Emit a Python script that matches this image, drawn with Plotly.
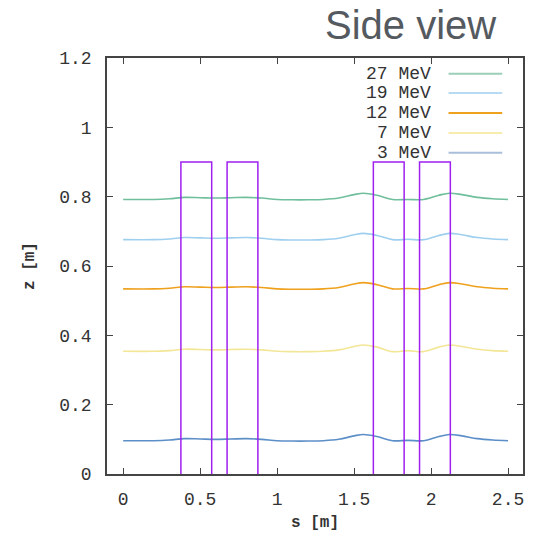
import plotly.graph_objects as go

# Beam path positions along the line [m]
s_pos = [0.0, 0.2, 0.3, 0.4, 0.5, 0.6, 0.7, 0.8, 0.9, 1.0, 1.1, 1.2, 1.3,
         1.4, 1.5, 1.56, 1.65, 1.75, 1.85, 1.95, 2.05, 2.12, 2.2, 2.3, 2.4, 2.5]

# Vertical trajectory height z [m] per beam energy
energies = ["27 MeV", "19 MeV", "12 MeV", "7 MeV", "3 MeV"]
z_27 = [0.792, 0.792, 0.794, 0.798, 0.797, 0.796, 0.797, 0.798, 0.796, 0.792, 0.791, 0.791, 0.792,
        0.796, 0.806, 0.810, 0.804, 0.792, 0.792, 0.792, 0.804, 0.810, 0.806, 0.798, 0.794, 0.792]
z_19 = [0.676, 0.676, 0.678, 0.682, 0.681, 0.680, 0.681, 0.682, 0.680, 0.676, 0.675, 0.675, 0.676,
        0.680, 0.690, 0.694, 0.688, 0.676, 0.677, 0.676, 0.688, 0.694, 0.690, 0.682, 0.678, 0.676]
z_12 = [0.534, 0.534, 0.536, 0.540, 0.539, 0.538, 0.539, 0.540, 0.538, 0.534, 0.533, 0.533, 0.534,
        0.538, 0.548, 0.552, 0.546, 0.534, 0.535, 0.534, 0.546, 0.552, 0.548, 0.540, 0.536, 0.534]
z_7 = [0.354, 0.354, 0.356, 0.360, 0.359, 0.358, 0.359, 0.360, 0.358, 0.354, 0.353, 0.353, 0.354,
       0.358, 0.368, 0.372, 0.366, 0.353, 0.356, 0.353, 0.366, 0.372, 0.368, 0.360, 0.356, 0.354]
z_3 = [0.096, 0.096, 0.098, 0.102, 0.101, 0.100, 0.101, 0.102, 0.100, 0.096, 0.095, 0.095, 0.096,
       0.100, 0.110, 0.114, 0.108, 0.096, 0.097, 0.096, 0.108, 0.114, 0.110, 0.102, 0.098, 0.096]
z_series = [z_27, z_19, z_12, z_7, z_3]
colors = ["#6fbf9c", "#9fcfee", "#efa11e", "#f3e697", "#5c8fc8"]
legend_colors = ["#9ccfb8", "#b8dbf3", "#efa11e", "#f6ecac", "#a9bfdb"]

# Magnet apertures: entrance position, length and height [m]
magnet_start = [0.375, 0.675, 1.625, 1.925]
magnet_length = [0.2, 0.2, 0.2, 0.2]
magnet_height = [0.9, 0.9, 0.9, 0.9]

x_ticks = [0, 0.5, 1, 1.5, 2, 2.5]
x_tick_text = ["0", "0.5", "1", "1.5", "2", "2.5"]
y_ticks = [0, 0.2, 0.4, 0.6, 0.8, 1.0, 1.2]
y_tick_text = ["0", "0.2", "0.4", "0.6", "0.8", "1", "1.2"]

mono = "Liberation Mono"

fig = go.Figure()

for name, z, c in zip(energies, z_series, colors):
    fig.add_trace(go.Scatter(x=s_pos, y=z, mode="lines", name=name,
                             line=dict(color=c, width=1.6, shape="spline"),
                             showlegend=False))

mx, my = [], []
for a, L, h in zip(magnet_start, magnet_length, magnet_height):
    mx += [a, a, a + L, a + L, None]
    my += [0, h, h, 0, None]
fig.add_trace(go.Scatter(x=mx, y=my, mode="lines",
                         line=dict(color="#a020f0", width=1.5),
                         showlegend=False))

# Key: label right-aligned, sample line to the right
key_y = [0.962, 0.916, 0.868, 0.820, 0.772]
for name, c, ky in zip(energies, legend_colors, key_y):
    fig.add_annotation(x=0.784, y=ky, xref="paper", yref="paper", text=name,
                       showarrow=False, xanchor="right", yanchor="middle",
                       font=dict(family=mono, size=18, color="#333333"))
    fig.add_shape(type="line", xref="paper", yref="paper",
                  x0=0.821, x1=0.950, y0=ky, y1=ky,
                  line=dict(color=c, width=2))

fig.add_annotation(x=0.520, y=1.080, xref="paper", yref="paper", text="Side view",
                   showarrow=False, xanchor="left", yanchor="middle",
                   font=dict(family="Liberation Sans", size=40, color="#555a60"))
fig.add_annotation(x=-0.185, y=0.5, xref="paper", yref="paper", text="<b>z [m]</b>",
                   showarrow=False, textangle=-90, xanchor="center", yanchor="middle",
                   font=dict(family=mono, size=16, color="#333333"))
fig.add_annotation(x=0.5, y=-0.117, xref="paper", yref="paper", text="<b>s [m]</b>",
                   showarrow=False, xanchor="center", yanchor="middle",
                   font=dict(family=mono, size=16, color="#333333"))

axis_common = dict(showgrid=False, zeroline=False, showline=True, linecolor="#444444",
                   linewidth=1.5, mirror="ticks", ticks="inside", ticklen=6,
                   tickcolor="#444444", tickwidth=1.2,
                   tickfont=dict(family=mono, size=18, color="#333333"))

fig.update_xaxes(range=[-0.105, 2.597], tickvals=x_ticks, ticktext=x_tick_text,
                 ticklabelstandoff=8, **axis_common)
fig.update_yaxes(range=[0, 1.2], tickvals=y_ticks, ticktext=y_tick_text,
                 ticklabelstandoff=10, **axis_common)

fig.update_layout(width=536, height=535, margin=dict(l=107, r=11, t=58, b=61),
                  plot_bgcolor="white", paper_bgcolor="white")

fig.write_html("out.html")
